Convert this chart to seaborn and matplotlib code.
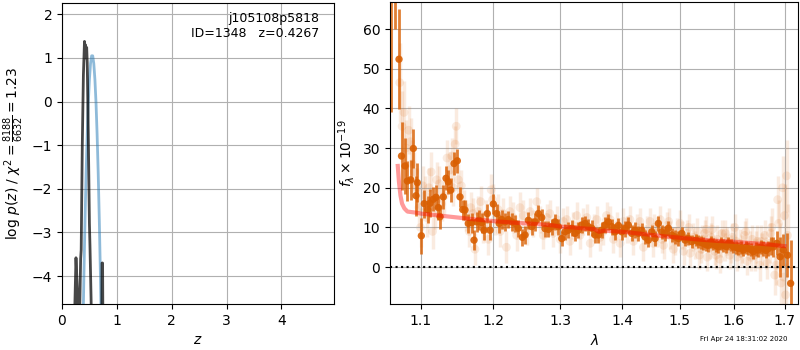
import numpy as np
import pandas as pd
import matplotlib
matplotlib.use("Agg")
import matplotlib.pyplot as plt
from matplotlib.ticker import FixedLocator, FormatStrFormatter, NullLocator
import seaborn as sns

# Left panel: redshift probability
pz_z = [0.20, 0.23, 0.255, 0.28, 0.30, 0.32, 0.34, 0.35, 0.37, 0.39, 0.41,
        0.42, 0.43, 0.44, 0.45, 0.46, 0.48, 0.50, 0.51, 0.53, 0.55, 0.70,
        0.725, 0.73, 0.74, 0.75]
pz_logp = [-6.0, -4.9, -3.58, -4.3, -5.5, -5.0, -3.6, -3.4, -1.0, 0.6, 1.38,
           1.0, 1.3, 1.05, 1.24, 0.9, -0.8, -2.8, -3.3, -4.5, -6.0, -6.0,
           -5.0, -3.7, -3.7, -6.0]
prior_z = [0.38, 0.40, 0.42, 0.44, 0.46, 0.48, 0.50, 0.52, 0.54, 0.56, 0.58,
           0.60, 0.62, 0.64, 0.66, 0.68, 0.70, 0.72]
prior_logp = [-5.37, -3.95, -2.70, -1.63, -0.74, -0.02, 0.51, 0.87, 1.05,
              1.05, 0.87, 0.51, -0.02, -0.74, -1.63, -2.70, -3.95, -5.37]

# Right panel: binned spectrum
bin_lam = [1.0619, 1.0670, 1.0721, 1.0753, 1.0798, 1.0828, 1.0872, 1.0906,
           1.0941, 1.0958, 1.1011, 1.1050, 1.1095, 1.1126, 1.1170, 1.1206,
           1.1237, 1.1260, 1.1304, 1.1341, 1.1372, 1.1405, 1.1450, 1.1495,
           1.1532, 1.1570, 1.1601, 1.1647, 1.1695, 1.1727, 1.1765, 1.1802,
           1.1836, 1.1868, 1.1915, 1.1954, 1.2001, 1.2050, 1.2086, 1.2122,
           1.2170, 1.2218, 1.2268, 1.2317, 1.2365, 1.2425, 1.2465, 1.2514,
           1.2565, 1.2615, 1.2665, 1.2716, 1.2766, 1.2817, 1.2869, 1.2920,
           1.2971, 1.3024, 1.3075, 1.3127, 1.3181, 1.3233, 1.3285, 1.3339,
           1.3392, 1.3445, 1.3500, 1.3553, 1.3607, 1.3662, 1.3716, 1.3770,
           1.3826, 1.3881, 1.3936, 1.3993, 1.4048, 1.4103, 1.4161, 1.4217,
           1.4273, 1.4331, 1.4388, 1.4445, 1.4504, 1.4561, 1.4619, 1.4678,
           1.4736, 1.4795, 1.4855, 1.4914, 1.4973, 1.5034, 1.5094, 1.5153,
           1.5215, 1.5290, 1.5336, 1.5380, 1.5428, 1.5475, 1.5520, 1.5565,
           1.5613, 1.5660, 1.5706, 1.5750, 1.5801, 1.5850, 1.5896, 1.5945,
           1.5991, 1.6040, 1.6087, 1.6135, 1.6184, 1.6230, 1.6281, 1.6330,
           1.6378, 1.6430, 1.6477, 1.6525, 1.6576, 1.6625, 1.6675, 1.6725,
           1.6775, 1.6844, 1.6910, 1.6977, 1.7059, 1.7124]
bin_flux = [72.0, 80.0, 52.4, 28.0, 25.5, 21.7, 22.0, 29.9,
            18.0, 21.3, 7.9, 16.0, 14.5, 16.1, 17.1, 17.6,
            15.0, 12.7, 17.7, 22.4, 21.5, 19.4, 26.1, 26.8,
            17.7, 14.5, 14.4, 11.0, 11.2, 6.8, 11.4, 11.8,
            11.2, 9.3, 13.5, 9.3, 15.9, 13.5, 11.0, 12.0,
            11.4, 12.0, 11.4, 11.0, 9.8, 7.5, 8.1, 11.8,
            10.2, 11.4, 13.5, 12.5, 9.7, 9.5, 10.2, 11.4,
            10.2, 7.2, 8.9, 9.3, 9.8, 8.5, 9.3, 10.6,
            11.0, 10.2, 9.8, 8.1, 8.1, 9.3, 10.6, 11.4,
            10.2, 8.9, 10.5, 8.9, 9.7, 10.6, 8.5, 9.3,
            8.5, 9.3, 7.6, 6.8, 8.9, 7.2, 11.0, 8.9,
            8.5, 9.8, 8.1, 7.6, 7.2, 8.5, 6.8, 7.2,
            6.4, 6.8, 6.4, 6.2, 6.0, 5.6, 5.5, 6.3,
            5.8, 5.4, 5.1, 5.9, 5.5, 5.2, 6.0, 5.6,
            5.1, 5.0, 4.7, 4.9, 4.3, 5.0, 4.7, 4.4,
            3.9, 4.6, 4.3, 5.0, 4.7, 4.2, 4.7, 5.3,
            5.1, 6.0, 2.6, 4.3, 3.0, -4.1]
bin_err = [33.0, 20.0, 12.6, 8.5, 7.0, 5.0, 5.0, 5.0,
           5.0, 5.0, 4.5, 3.5, 3.5, 3.5, 3.0, 3.0,
           3.0, 3.0, 3.0, 3.0, 3.0, 3.0, 3.0, 3.0,
           2.5, 2.5, 2.5, 2.5, 2.5, 2.5, 2.5, 2.5,
           2.5, 2.5, 2.5, 2.5, 2.5, 2.5, 2.5, 2.5,
           2.2, 2.2, 2.2, 2.2, 2.2, 2.2, 2.2, 2.2,
           2.2, 2.2, 2.2, 2.2, 2.0, 2.0, 2.0, 2.0,
           2.0, 2.0, 2.0, 2.0, 2.0, 2.0, 2.0, 2.0,
           2.0, 2.0, 2.0, 2.0, 2.0, 2.0, 2.0, 2.0,
           2.0, 2.0, 2.0, 2.0, 2.0, 2.0, 2.0, 2.0,
           1.8, 1.8, 1.8, 1.8, 1.8, 1.8, 1.8, 1.8,
           1.8, 1.8, 1.8, 1.8, 1.8, 1.6, 1.6, 1.6,
           1.6, 1.6, 1.6, 1.6, 1.6, 1.6, 1.6, 1.6,
           1.6, 1.6, 1.6, 1.6, 1.6, 1.6, 1.6, 1.6,
           1.6, 1.6, 1.6, 1.6, 1.6, 1.6, 1.6, 1.6,
           1.8, 1.8, 1.8, 1.8, 1.8, 2.0, 2.0, 2.2,
           2.5, 3.0, 5.0, 4.0, 5.5, 11.0]

# Right panel: individual (unbinned) points
raw_lam = [1.0730, 1.0760, 1.0785, 1.0810, 1.0845, 1.0870, 1.0890, 1.0920,
           1.0950, 1.0980, 1.1000, 1.1030, 1.1060, 1.1080, 1.1110, 1.1140,
           1.1160, 1.1190, 1.1215, 1.1250, 1.1280, 1.1320, 1.1355, 1.1390,
           1.1420, 1.1440, 1.1465, 1.1480, 1.1510, 1.1550, 1.1585, 1.1620,
           1.1660, 1.1680, 1.1710, 1.1740, 1.1780, 1.1820, 1.1850, 1.1890,
           1.1930, 1.1970, 1.1990, 1.2030, 1.2070, 1.2100, 1.2140, 1.2190,
           1.2240, 1.2290, 1.2340, 1.2390, 1.2440, 1.2490, 1.2540, 1.2590,
           1.2640, 1.2690, 1.2740, 1.2790, 1.2840, 1.2890, 1.2945, 1.3000,
           1.3050, 1.3100, 1.3150, 1.3205, 1.3260, 1.3310, 1.3365, 1.3420,
           1.3475, 1.3530, 1.3580, 1.3635, 1.3690, 1.3740, 1.3800, 1.3855,
           1.3910, 1.3965, 1.4020, 1.4075, 1.4130, 1.4190, 1.4245, 1.4300,
           1.4360, 1.4415, 1.4475, 1.4530, 1.4590, 1.4650, 1.4710, 1.4765,
           1.4825, 1.4885, 1.4945, 1.5005, 1.5065, 1.5125, 1.5185, 1.5245,
           1.5310, 1.5355, 1.5405, 1.5450, 1.5500, 1.5545, 1.5590, 1.5635,
           1.5685, 1.5730, 1.5775, 1.5825, 1.5870, 1.5920, 1.5970, 1.6015,
           1.6060, 1.6110, 1.6160, 1.6205, 1.6255, 1.6305, 1.6355, 1.6405,
           1.6455, 1.6500, 1.6550, 1.6600, 1.6650, 1.6700, 1.6740, 1.6800,
           1.6860, 1.6880, 1.6930, 1.6960, 1.7000, 1.7020, 1.7040,
           1.4550, 1.4680, 1.4800, 1.4920, 1.5040, 1.5160, 1.5280, 1.5390,
           1.5480, 1.5570, 1.5660, 1.5750, 1.5840, 1.5940, 1.6040, 1.6130,
           1.6230, 1.6330, 1.6430, 1.6530, 1.6620, 1.6720, 1.6830, 1.6900,
           1.6980, 1.7060]
raw_flux = [46.5, 35.5, 39.0, 30.0, 34.5, 31.6, 26.0, 24.0,
            20.0, 15.0, 10.0, 20.5, 18.0, 12.5, 20.0, 24.0,
            9.0, 14.0, 22.0, 21.0, 16.0, 18.0, 27.5, 24.5,
            28.0, 20.0, 31.0, 35.5, 22.0, 20.5, 15.5, 13.0,
            9.0, 15.0, 13.5, 4.5, 14.0, 16.5, 10.0, 13.0,
            7.0, 19.5, 17.0, 12.0, 14.5, 9.0, 13.5, 5.0,
            14.0, 12.5, 8.0, 15.0, 13.0, 9.0, 14.0, 11.0,
            16.5, 12.0, 8.0, 12.5, 13.5, 8.5, 12.0, 7.0,
            11.5, 12.0, 6.5, 10.5, 13.0, 8.0, 11.5, 12.5,
            6.0, 10.0, 12.0, 7.5, 9.0, 13.0, 12.0, 7.0,
            10.5, 6.0, 11.5, 9.5, 12.0, 6.5, 10.0, 11.5,
            5.0, 9.5, 11.5, 6.0, 8.5, 12.0, 5.5, 10.5,
            8.0, 4.5, 9.0, 11.0, 4.0, 8.5, 3.5, 7.5,
            9.0, 3.0, 7.0, 8.5, 2.5, 5.5, 9.5, 4.0,
            7.0, 2.0, 8.5, 5.0, 6.5, 3.0, 7.5, 10.0,
            2.5, 6.0, 4.5, 8.0, 1.5, 5.5, 7.0, 3.0,
            6.5, 0.5, 4.5, 8.0, 1.0, 6.0, 10.0, -2.0,
            17.0, 11.0, -4.0, 20.0, 13.0, -7.0, 23.0,
            10.0, 7.0, 11.5, 6.5, 8.0, 10.0, 5.5, 4.5,
            9.5, 7.5, 3.0, 6.0, 8.5, 4.5, 6.5, 3.5,
            9.0, 2.5, 5.0, 6.5, 3.5, 8.5, 0.5, 5.0,
            -2.5, 8.0]
raw_err = [10.0, 9.0, 8.0, 7.0, 6.0, 6.0, 6.0, 5.0,
           5.0, 5.0, 5.0, 5.0, 5.0, 5.0, 5.0, 5.0,
           4.5, 4.5, 4.5, 4.5, 4.5, 4.5, 4.5, 4.5,
           4.5, 4.5, 4.5, 4.5, 4.0, 4.0, 4.0, 4.0,
           4.0, 4.0, 4.0, 4.0, 4.0, 4.0, 4.0, 4.0,
           4.0, 4.0, 4.0, 4.0, 4.0, 4.0, 4.0, 4.0,
           4.0, 4.0, 4.0, 4.0, 4.0, 3.5, 3.5, 3.5,
           3.5, 3.5, 3.5, 3.5, 3.5, 3.5, 3.5, 3.5,
           3.5, 3.5, 3.5, 3.5, 3.5, 3.5, 3.5, 3.5,
           3.5, 3.5, 3.5, 3.5, 3.5, 3.5, 3.5, 3.5,
           3.5, 3.5, 3.5, 3.5, 3.5, 3.5, 3.5, 3.5,
           3.5, 3.5, 3.5, 3.5, 3.5, 3.5, 3.5, 3.5,
           3.5, 3.5, 3.5, 3.5, 3.5, 3.5, 3.5, 3.5,
           3.5, 3.5, 3.5, 3.5, 3.5, 3.5, 3.5, 3.5,
           3.5, 3.5, 3.5, 3.5, 3.5, 3.5, 3.5, 3.5,
           3.5, 3.5, 3.5, 3.5, 3.5, 3.5, 3.5, 4.0,
           4.0, 4.0, 4.0, 4.0, 4.0, 5.0, 5.0, 5.0,
           6.0, 6.0, 7.0, 8.0, 8.0, 8.0, 9.0,
           3.5, 3.5, 3.5, 3.5, 3.5, 3.5, 3.5, 3.5,
           3.5, 3.5, 3.5, 3.5, 3.5, 3.5, 3.5, 3.5,
           3.5, 3.5, 4.0, 4.0, 4.0, 4.5, 5.0, 6.0,
           7.0, 8.0]

# Right panel: best-fit model
model_lam = [1.0705, 1.0720, 1.0740, 1.0760, 1.0790, 1.0830, 1.0870, 1.0950,
             1.1000, 1.1300, 1.1500, 1.1700, 1.2000, 1.2300, 1.2600, 1.2900,
             1.3000, 1.3200, 1.3400, 1.3530, 1.3620, 1.3700, 1.3900, 1.4000,
             1.4200, 1.4500, 1.4700, 1.5000, 1.5300, 1.5500, 1.5700, 1.6000,
             1.6300, 1.6500, 1.6700, 1.6900, 1.7000]
model_flux = [25.5, 21.5, 18.0, 16.0, 14.8, 14.0, 13.9, 13.7,
              13.5, 12.9, 12.5, 12.1, 11.6, 11.2, 10.9, 10.5,
              10.2, 10.0, 9.7, 9.6, 8.9, 9.2, 9.0, 8.9,
              8.6, 8.1, 7.8, 7.4, 7.0, 6.8, 6.6, 6.4,
              6.1, 5.9, 5.7, 5.4, 5.3]

xticks_lam = [1.1, 1.2, 1.3, 1.4, 1.5, 1.6, 1.7]

orange = '#d95f02'

fig = plt.figure(figsize=(8, 3.5), dpi=100)
ax1 = fig.add_axes([0.0775, 0.1314, 0.34, 0.86])
ax2 = fig.add_axes([0.4875, 0.1314, 0.5106, 0.8626])

# p(z)
pz_df = pd.DataFrame({'z': pz_z, 'logp': pz_logp})
prior_df = pd.DataFrame({'z': prior_z, 'logp': prior_logp})
sns.lineplot(data=prior_df, x='z', y='logp', ax=ax1, color='#1f77b4',
             alpha=0.5, lw=2, estimator=None, sort=False)
sns.lineplot(data=pz_df, x='z', y='logp', ax=ax1, color='k',
             alpha=0.72, lw=2, estimator=None, sort=False)
ax1.set_xlim(0, 4.96)
ax1.set_ylim(-4.64, 2.26)
ax1.set_xticks([0, 1, 2, 3, 4])
ax1.set_yticks([-4, -3, -2, -1, 0, 1, 2])
ax1.grid(True)
ax1.set_xlabel(r'$z$')
ax1.set_ylabel(r'log $p(z)$ / $\chi^2=\frac{8188}{6632}=1.23$')
ax1.text(0.946, 0.97, 'j105108p5818\nID=1348   z=0.4267', transform=ax1.transAxes,
         ha='right', va='top', multialignment='right', fontsize=9)

# spectrum
raw_df = pd.DataFrame({'lam': raw_lam, 'flux': raw_flux})
bin_df = pd.DataFrame({'lam': bin_lam, 'flux': bin_flux})
model_df = pd.DataFrame({'lam': model_lam, 'flux': model_flux})

ax2.errorbar(raw_lam, raw_flux, yerr=raw_err, fmt='none', ecolor=orange,
             alpha=0.12, elinewidth=2.5)
sns.scatterplot(data=raw_df, x='lam', y='flux', ax=ax2, color=orange,
                alpha=0.12, s=40, edgecolor='none')
ax2.errorbar(bin_lam, bin_flux, yerr=bin_err, fmt='none', ecolor=orange,
             alpha=0.8, elinewidth=2)
sns.scatterplot(data=bin_df, x='lam', y='flux', ax=ax2, color=orange,
                alpha=0.9, s=28, edgecolor='none', zorder=3)
sns.lineplot(data=model_df, x='lam', y='flux', ax=ax2, color='r',
             alpha=0.4, lw=3, estimator=None, zorder=4)
ax2.axhline(0, color='k', ls=':', lw=1.5, zorder=5)

ax2.set_xscale('log')
ax2.set_xlim(1.0606, 1.7285)
ax2.set_ylim(-9.3, 66.8)
ax2.xaxis.set_major_locator(FixedLocator(xticks_lam))
ax2.xaxis.set_major_formatter(FormatStrFormatter('%.1f'))
ax2.xaxis.set_minor_locator(NullLocator())
ax2.set_yticks([0, 10, 20, 30, 40, 50, 60])
ax2.grid(True)
ax2.set_xlabel(r'$\lambda$')
ax2.set_ylabel(r'$f_\lambda\times 10^{-19}$')

fig.text(0.984, 0.022, 'Fri Apr 24 18:31:02 2020', ha='right', va='bottom',
         fontsize=5)

fig.savefig('out.png', dpi=100)
